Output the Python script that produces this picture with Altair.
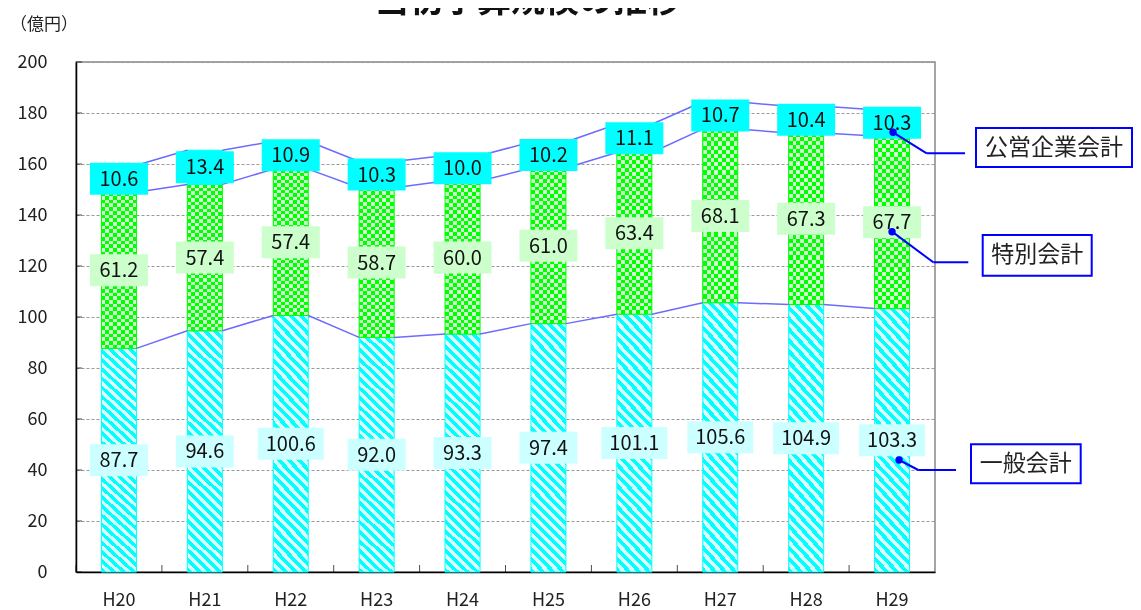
import altair as alt
import pandas as pd

# ---------------- data ----------------
years = ["H20", "H21", "H22", "H23", "H24", "H25", "H26", "H27", "H28", "H29"]
general = [87.7, 94.6, 100.6, 92.0, 93.3, 97.4, 101.1, 105.6, 104.9, 103.3]
special = [61.2, 57.4, 57.4, 58.7, 60.0, 61.0, 63.4, 68.1, 67.3, 67.7]
public = [10.6, 13.4, 10.9, 10.3, 10.0, 10.2, 11.1, 10.7, 10.4, 10.3]
series_names = ["一般会計", "特別会計", "公営企業会計"]
y_ticks = list(range(0, 201, 20))
title_text = "当初予算規模の推移"
unit_text = "（億円）"

# ---------------- layout / style ----------------
W, H = 859, 510
FONT = "Noto Sans CJK JP"
BAR_W = 35
LINE_C = "#6B6BFF"
CALL_C = "#0000FF"

df = pd.DataFrame({"year": years, "general": general, "special": special, "public": public})
df["s_top"] = df["general"] + df["special"]
df["p_top"] = df["s_top"] + df["public"]

box_fill = {"一般会計": "#CCFFFF", "特別会計": "#CCFFCC", "公営企業会計": "#00FFFF"}
rows = []
for i, yr in enumerate(years):
    bases = [0, general[i], general[i] + special[i]]
    vals = [general[i], special[i], public[i]]
    for name, b, v in zip(series_names, bases, vals):
        lab = f"{v:.1f}"
        half = 29 if len(lab) <= 4 else 33
        rows.append({"year": yr, "series": name, "center": b + v / 2, "label": lab,
                     "shape": f"M-{half},-16H{half}V16H-{half}Z", "boxfill": box_fill[name]})
seg = pd.DataFrame(rows)

tops = {"一般会計": df["general"].tolist(), "特別会計": df["s_top"].tolist(),
        "公営企業会計": df["p_top"].tolist()}
lrows = []
for name, t in tops.items():
    for i in range(len(years) - 1):
        lrows.append({"series": name, "year": years[i], "next": years[i + 1], "y0": t[i], "y1": t[i + 1]})
lines = pd.DataFrame(lrows)


def stripes(c1, c2, n):
    stops = []
    for k in range(n):
        c = c1 if k % 2 == 0 else c2
        stops.append({"offset": round(k / n, 5), "color": c})
        stops.append({"offset": round((k + 1) / n, 5), "color": c})
    return stops


hatch = {"gradient": "linear", "x1": 0, "y1": 1, "x2": 0.16, "y2": -0.12,
         "stops": stripes("#00FFFF", "#D9FFFF", 56)}
checker_base = {"gradient": "linear", "x1": 0, "y1": 0, "x2": 1, "y2": 0,
                "stops": stripes("#00FF00", "#CCFFCC", 9)}
checker_top = {"gradient": "linear", "x1": 0, "y1": 0, "x2": 0, "y2": 1,
               "stops": stripes("#000000", "#CC00CC", 42)}

xscale = alt.Scale(domain=years, paddingInner=0, paddingOuter=0)
yscale = alt.Scale(domain=[0, 200], nice=False)
xaxis = alt.Axis(title=None, labelAngle=0, ticks=False, labelPadding=19, labelFontSize=18,
                 domainColor="black", domainWidth=1.5, grid=False, labelColor="#222222")
yaxis = alt.Axis(title=None, values=y_ticks, ticks=False, labelPadding=29, labelFontSize=18,
                 domainColor="black", domainWidth=1.5, grid=True, gridColor="#999999",
                 gridDash=[3, 2], gridWidth=1, labelColor="#222222")


def X(bp=None):
    if bp is None:
        return alt.X("year:N", scale=xscale, axis=xaxis, sort=years)
    return alt.X("year:N", scale=xscale, axis=xaxis, sort=years, bandPosition=bp)


def Y(f):
    return alt.Y(f, scale=yscale, axis=yaxis)


base = alt.Chart(df)
gen_bar = base.mark_bar(width=BAR_W, fill=hatch, stroke="#00FFFF", strokeWidth=1).encode(
    x=X(), y=Y("general:Q"))
spe_base = base.mark_bar(width=BAR_W, fill=checker_base).encode(
    x=X(), y=Y("s_top:Q"), y2="general:Q")
spe_top = base.mark_bar(width=BAR_W, fill=checker_top, blend="difference").encode(
    x=X(), y=Y("s_top:Q"), y2="general:Q")
spe_outline = base.mark_bar(width=BAR_W, fillOpacity=0, stroke="#00FF00", strokeWidth=1).encode(
    x=X(), y=Y("s_top:Q"), y2="general:Q")
pub_bar = base.mark_bar(width=BAR_W, fill="#00FFFF", stroke="#00FFFF", strokeWidth=1).encode(
    x=X(), y=Y("p_top:Q"), y2="s_top:Q")

series_lines = alt.Chart(lines).mark_rule(
    color=LINE_C, strokeWidth=1.5, xOffset=BAR_W / 2, x2Offset=-BAR_W / 2).encode(
    x=X(0.5), x2=alt.X2("next:N", bandPosition=0.5), y=Y("y0:Q"), y2="y1:Q")

label_boxes = alt.Chart(seg).mark_point(filled=True, size=4, opacity=1, strokeWidth=0).encode(
    x=X(), y=Y("center:Q"),
    shape=alt.Shape("shape:N", scale=None),
    color=alt.Color("boxfill:N", scale=None))
label_text = alt.Chart(seg).mark_text(font=FONT, fontSize=20, color="#111111", dy=1).encode(
    x=X(), y=Y("center:Q"), text="label:N")

y_tick_marks = alt.Chart(pd.DataFrame({"v": y_ticks})).mark_tick(
    orient="horizontal", size=6, thickness=1, color="black").encode(
    y=Y("v:Q"), x=alt.value(3))
x_tick_marks = base.mark_tick(orient="vertical", size=7, thickness=1, color="black").encode(
    x=X(0), y=alt.value(H - 3.5))

title_layer = alt.Chart(pd.DataFrame({"t": [title_text]})).mark_text(
    font=FONT, fontSize=34, fontWeight="bold", color="#111111", align="center",
    baseline="alphabetic").encode(text="t:N", x=alt.value(452), y=alt.value(-50))
unit_layer = alt.Chart(pd.DataFrame({"t": [unit_text]})).mark_text(
    font=FONT, fontSize=17, color="#222222", align="left", baseline="middle").encode(
    text="t:N", x=alt.value(-66), y=alt.value(-37))

# callouts: (series, dot dx, dot dy, elbow x, elbow y, end x, box x0, x1, y0, y1, font)
callouts = [
    ("公営企業会計", 1, 9.5, 850.7, 91.3, 889, 900, 1056, 66, 105, 23),
    ("特別会計", 0, 9.4, 857.3, 200.3, 892.3, 906.7, 1015.7, 173, 213.7, 23),
    ("一般会計", 7, 19.7, 842.3, 408, 880, 895, 1004.7, 382.3, 421.3, 23),
]
call_layers = []
for name, ddx, ddy, ex, ey, endx, bx0, bx1, by0, by1, fs in callouts:
    cdf = seg[(seg["year"] == years[-1]) & (seg["series"] == name)].copy()
    cdf["name"] = name
    cb = alt.Chart(cdf)
    call_layers.append(cb.mark_rule(color=CALL_C, strokeWidth=2, xOffset=ddx, yOffset=ddy).encode(
        x=X(), y=Y("center:Q"), x2=alt.value(ex), y2=alt.value(ey)))
    call_layers.append(cb.mark_rule(color=CALL_C, strokeWidth=2).encode(
        x=alt.value(ex), x2=alt.value(endx), y=alt.value(ey)))
    call_layers.append(cb.mark_point(filled=True, size=55, opacity=1, color=CALL_C,
                                     xOffset=ddx, yOffset=ddy).encode(x=X(), y=Y("center:Q")))
    call_layers.append(cb.mark_rect(fill="white", stroke=CALL_C, strokeWidth=2).encode(
        x=alt.value(bx0), x2=alt.value(bx1), y=alt.value(by0), y2=alt.value(by1)))
    call_layers.append(cb.mark_text(font=FONT, fontSize=fs, color="#222222", align="center",
                                    baseline="middle").encode(
        text="name:N", x=alt.value((bx0 + bx1) / 2), y=alt.value((by0 + by1) / 2)))

chart = alt.layer(
    gen_bar, spe_base, spe_top, spe_outline, pub_bar,
    series_lines, label_boxes, label_text,
    y_tick_marks, x_tick_marks, title_layer, unit_layer, *call_layers
).properties(
    width=W, height=H,
    autosize=alt.AutoSizeParams(type="none"),
    padding={"left": 68, "top": 54, "right": 198, "bottom": 38},
).configure_view(stroke="#888888", strokeWidth=1.5).configure_axis(labelFont=FONT)

chart.save("out.html", embed_options={"renderer": "svg", "actions": False})
